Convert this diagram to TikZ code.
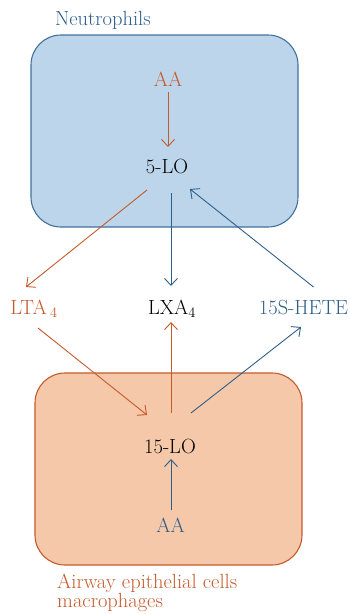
\documentclass[tikz,border=0pt]{standalone}
\usepackage{amsmath}
\usepackage{tikz}
\usepackage{xcolor}
\usetikzlibrary{arrows.meta,calc,positioning}

\definecolor{boxblue}{RGB}{189,213,234}
\definecolor{lineblue}{RGB}{65,113,156}
\definecolor{textblue}{RGB}{46,95,138}
\definecolor{boxorange}{RGB}{245,200,169}
\definecolor{lineorange}{RGB}{197,90,43}

\tikzset{
	lbl/.style={inner sep=0pt, anchor=base, font=\fontsize{20.5}{20.5}\selectfont},
	oarr/.style={lineorange, line width=0.9pt, -{Straight Barb[length=7pt,width=13pt]}},
	barr/.style={textblue, line width=0.9pt, -{Straight Barb[length=7pt,width=13pt]}}
}

\begin{document}
\begin{tikzpicture}[x=1pt,y=-1pt]
		\useasboundingbox (0,0) rectangle (350,614);
		\draw[lineblue, line width=1.1pt, fill=boxblue, rounded corners=30pt]
			(31,35) rectangle (298,227);
		\draw[lineorange, line width=1.1pt, fill=boxorange, rounded corners=30pt]
			(35,373) rectangle (302,565);

		\node[lbl, anchor=base west, textblue] (neutro) at (55,25) {Neutrophils};
		\node[lbl, lineorange] (aa1) at (168,86) {AA};
		\node[lbl] (lo5) at (167,173) {5-LO};
		\node[lbl, lineorange] (lta) at (34,314) {LTA\,$_{4}$};
		\node[lbl] (lxa) at (172,314) {LXA$_{4}$};
		\node[lbl, textblue] (hete) at (303.5,314) {15S-HETE};
		\node[lbl] (lo15) at (170,453) {15-LO};
		\node[lbl, textblue] (aa2) at (170.5,532) {AA};
		\node[lbl, anchor=base west, lineorange] (airway) at (57,588) {Airway epithelial cells};
		\node[lbl, anchor=base west, lineorange] (macro) at (57,607) {macrophages};

		\draw[oarr] ($(aa1.base)+(0,6)$) -- ($(lo5.base)+(1,-26)$);
		\draw[oarr] ($(lo5.base)+(-20,17)$) -- ($(lta.base)+(-8,-27)$);
		\draw[barr] ($(lo5.base)+(4,20)$) -- ($(lxa.base)+(-1,-28)$);
		\draw[barr] ($(hete.base)+(10,-27)$) -- ($(lo5.base)+(23,16)$);
		\draw[oarr] ($(lta.base)+(4,14)$) -- ($(lo15.base)+(-23,-38)$);
		\draw[oarr] ($(lo15.base)+(1,-40)$) -- ($(lxa.base)+(-1,8)$);
		\draw[barr] ($(lo15.base)+(21,-40)$) -- ($(hete.base)+(-2.5,13)$);
		\draw[barr] ($(aa2.base)+(0.5,-22)$) -- ($(lo15.base)+(1,6)$);
	\end{tikzpicture}
\end{document}
